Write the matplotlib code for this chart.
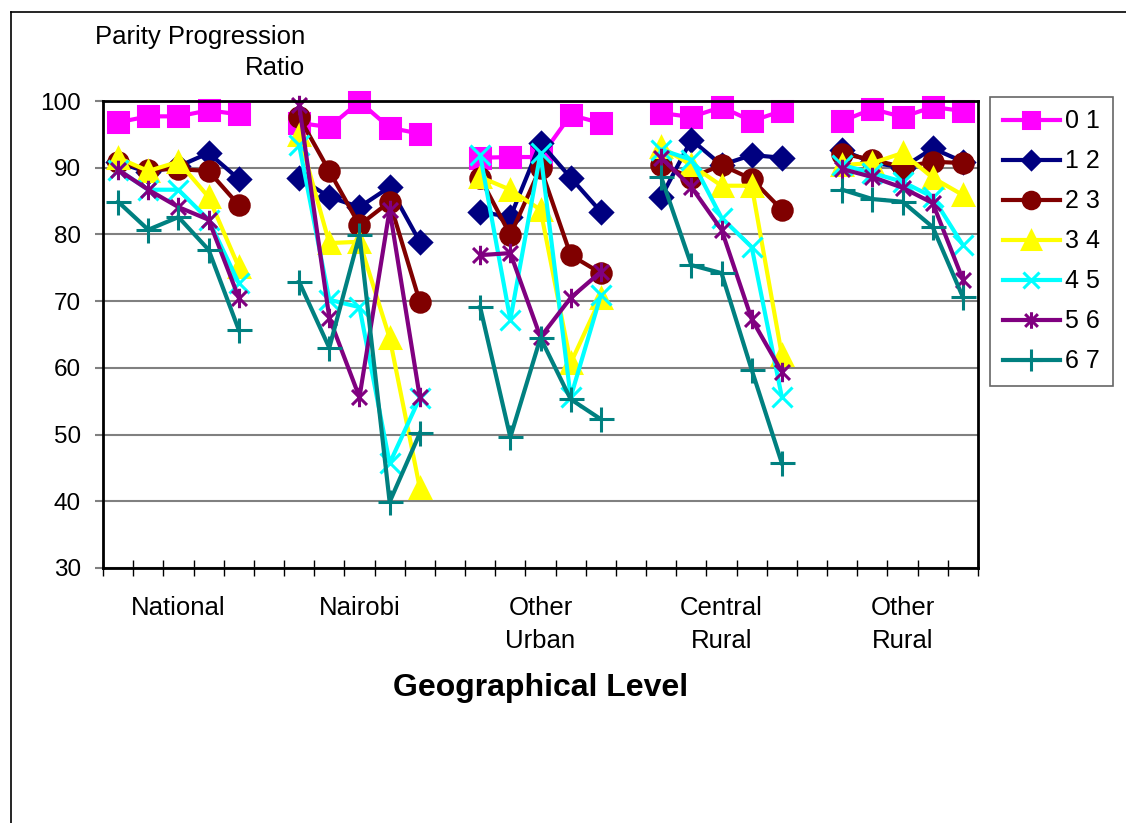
import numpy as np
import matplotlib
matplotlib.use("Agg")
import matplotlib.pyplot as plt
from matplotlib.path import Path
from matplotlib.lines import Line2D

plt.rcParams['font.family'] = ['Liberation Sans', 'DejaVu Sans']

# Geographical groups (5 points each)
groups = ["National", "Nairobi", "Other\nUrban", "Central\nRural", "Other\nRural"]
series_names = ["0 1", "1 2", "2 3", "3 4", "4 5", "5 6", "6 7"]

# values per series: one list of 5 values per group
p01 = [[96.8, 97.7, 97.7, 98.6, 98.0], [96.7, 96.1, 99.9, 96.0, 95.1],
       [91.5, 91.6, 91.6, 97.9, 96.7], [98.2, 97.6, 99.1, 97.0, 98.5],
       [97.0, 98.8, 97.6, 99.1, 98.5]]
p12 = [[90.8, 89.3, 90.2, 92.2, 88.3], [88.5, 85.6, 84.1, 87.1, 78.9],
       [83.4, 82.6, 93.7, 88.5, 83.4], [85.6, 94.2, 90.4, 91.9, 91.5],
       [92.6, 90.8, 90.0, 92.9, 90.9]]
p23 = [[90.9, 89.7, 89.8, 89.5, 84.4], [97.6, 89.5, 81.4, 84.9, 69.9],
       [88.5, 79.9, 90.0, 76.9, 74.2], [90.4, 88.5, 90.4, 88.3, 83.7],
       [92.1, 91.2, 90.1, 90.9, 90.7]]
p34 = [[91.5, 89.5, 90.9, 85.6, 75.1], [94.9, 78.7, 78.9, 64.5, 42.0],
       [88.6, 86.7, 83.7, 60.7, 70.5], [93.1, 90.4, 87.3, 87.3, 61.9],
       [90.4, 90.7, 92.2, 88.5, 85.9]]
p45 = [[89.7, 86.7, 86.7, 82.2, 72.7], [93.4, 70.2, 69.1, 45.7, 55.5],
       [91.9, 67.2, 92.2, 55.6, 70.9], [92.7, 91.2, 82.5, 78.1, 55.6],
       [90.4, 89.2, 87.9, 85.6, 78.4]]
p56 = [[89.7, 86.7, 84.1, 82.2, 70.5], [99.4, 67.5, 55.6, 83.7, 55.6],
       [76.9, 77.2, 64.6, 70.5, 74.4], [91.5, 87.1, 80.7, 67.3, 59.4],
       [89.8, 88.6, 87.0, 84.7, 73.2]]
p67 = [[84.9, 80.7, 82.6, 77.7, 65.7], [72.9, 63.0, 79.9, 39.9, 50.2],
       [69.1, 49.6, 64.5, 55.3, 52.3], [88.6, 75.4, 74.2, 59.7, 45.7],
       [86.7, 85.3, 84.9, 81.1, 70.6]]

all_series = [p01, p12, p23, p34, p45, p56, p67]
colors = ["#FF00FF", "#000080", "#800000", "#FFFF00", "#00FFFF", "#800080", "#008080"]

# asterisk marker like the spreadsheet one (x plus vertical bar)
star = Path([(-1, -1), (1, 1), (-1, 1), (1, -1), (0, -1.3), (0, 1.3)],
            [Path.MOVETO, Path.LINETO] * 3)
markers = ["s", "D", "o", "^", "x", star, "+"]
msizes = [14, 11, 14, 15, 14, 14, 18]


def flatten(groups_vals):
    # put a gap (NaN) between the geographical groups
    out = []
    for i, g in enumerate(groups_vals):
        out.extend(g)
        if i < len(groups_vals) - 1:
            out.append(np.nan)
    return np.array(out)


fig = plt.figure(figsize=(11.26, 8.23), dpi=100)
ax = fig.add_axes([103 / 1126, 1 - 568 / 823, (978 - 103) / 1126, (568 - 101) / 823])

n = len(flatten(p01))
x = np.arange(n)
for vals, name, c, m, ms in zip(all_series, series_names, colors, markers, msizes):
    y = flatten(vals)
    ax.plot(x, y, color=c, lw=3, marker=m, markersize=ms, markerfacecolor=c,
            markeredgecolor=c, markeredgewidth=2.2, label=name, clip_on=False)

ax.set_xlim(-0.5, n - 0.5)
ax.set_ylim(30, 100)
ax.set_yticks(np.arange(30, 101, 10))
ax.yaxis.grid(True, color="#808080", lw=1.5)
ax.set_axisbelow(True)
ax.set_xticks(np.arange(-0.5, n, 1))
ax.set_xticklabels([])
ax.tick_params(axis="x", direction="inout", length=12, width=1, color="black")
ax.tick_params(axis="y", direction="out", length=6, width=1.5, color="#808080",
               labelsize=17.5, pad=10)
for s in ax.spines.values():
    s.set_linewidth(2)

# group labels under the axis
for i, g in enumerate(groups):
    ax.text(2 + i * 6, -0.060, g, transform=ax.get_xaxis_transform(),
            ha="center", va="top", fontsize=18.5, linespacing=1.45)

ax.text(0.5, -0.225, "Geographical Level", transform=ax.transAxes,
        ha="center", va="top", fontsize=23, fontweight="bold")

fig.text(305 / 1126, 1 - 75 / 823, "Parity Progression\nRatio", ha="right",
         va="baseline", fontsize=18.5, linespacing=1.35, multialignment="right")

leg = ax.legend(loc="upper left", bbox_to_anchor=(990 / 1126, 1 - 97 / 823),
                bbox_transform=fig.transFigure, frameon=True, fancybox=False,
                edgecolor="#404040", fontsize=18, handlelength=2.3,
                labelspacing=0.64, borderpad=0.5, handletextpad=0.2,
                borderaxespad=0)
leg.get_frame().set_linewidth(1.2)
for h in leg.legend_handles:
    h.set_markersize(h.get_markersize() * 0.85)

# outer border of the chart area
fig.add_artist(Line2D([11 / 1126, 11 / 1126], [0, 1 - 12 / 823], color="black", lw=1.2))
fig.add_artist(Line2D([11 / 1126, 1], [1 - 12 / 823, 1 - 12 / 823], color="black", lw=1.2))

fig.savefig("out.png", dpi=100)
